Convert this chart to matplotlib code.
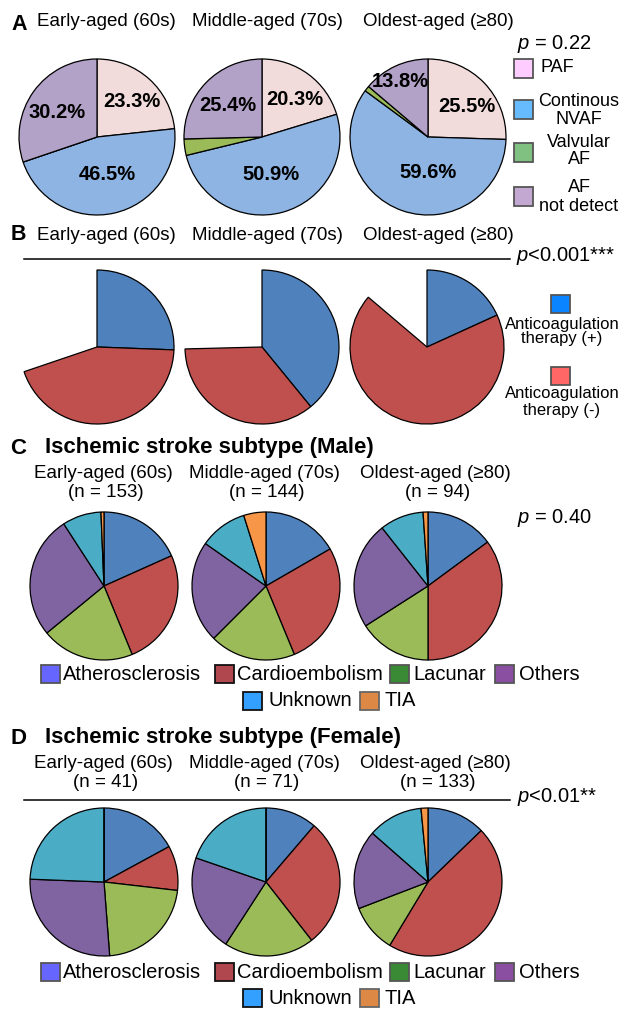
import matplotlib
matplotlib.use("Agg")
import numpy as np
import matplotlib.pyplot as plt
from matplotlib.patches import Rectangle
from matplotlib.lines import Line2D

plt.rcParams['font.family'] = ['Liberation Sans', 'DejaVu Sans']
plt.rcParams['mathtext.fontset'] = 'custom'
plt.rcParams['mathtext.it'] = 'Liberation Sans:italic'
plt.rcParams['mathtext.rm'] = 'Liberation Sans'

# ---------------------------------------------------------------- data
age_groups = ["Early-aged (60s)", "Middle-aged (70s)", "Oldest-aged (≥80)"]

# A: type of atrial fibrillation (%)
af_types = ["PAF", "Continous\nNVAF", "Valvular\nAF", "AF\nnot detect"]
af_early = [23.3, 46.5, 0.0, 30.2]
af_middle = [20.3, 50.9, 3.4, 25.4]
af_oldest = [25.5, 59.6, 1.1, 13.8]
af_p = "= 0.22"

# B: anticoagulation therapy (%); remainder = AF not detected
anticoag_labels = ["Anticoagulation\ntherapy (+)", "Anticoagulation\ntherapy (-)"]
anticoag_pos = [25.6, 39.1, 18.2]
anticoag_neg = [44.2, 35.5, 68.0]
af_not_detected = [30.2, 25.4, 13.8]
anticoag_p = "<0.001***"

# C / D: ischemic stroke subtype (patients)
subtypes = ["Atherosclerosis", "Cardioembolism", "Lacunar", "Others", "Unknown", "TIA"]
male_n = [153, 144, 94]
male_early = [28, 39, 31, 41, 13, 1]
male_middle = [24, 39, 27, 32, 15, 7]
male_oldest = [14, 33, 15, 22, 9, 1]
male_p = "= 0.40"
female_n = [41, 71, 133]
female_early = [7, 4, 9, 11, 10, 0]
female_middle = [8, 20, 14, 15, 14, 0]
female_oldest = [17, 61, 14, 23, 16, 2]
female_p = "<0.01**"

# ---------------------------------------------------------------- styles
W, H = 622, 1009
af_pie_colors = ["#f2dcdb", "#8db4e2", "#9bbb59", "#b3a2c7"]
af_leg_colors = ["#ffccff", "#66bbff", "#80c080", "#c3a8d1"]
ac_pie_colors = ["#4f81bd", "#c0504d", "none"]
ac_leg_colors = ["#0a84ff", "#ff6666"]
st_pie_colors = ["#4f81bd", "#c0504d", "#9bbb59", "#8064a2", "#4bacc6", "#f79646"]
st_leg_colors = ["#6666ff", "#b0474f", "#3a8a35", "#8a4fa0", "#33a0ff", "#dd8844"]
st_leg_edges = ["#555555", "#111111", "#555555", "#555555", "#111111", "#666666"]
# (radial distance, angular nudge in degrees) for the percentage labels of A
af_label_pos = [
    [(0.64, -2), (0.50, 3), None, (0.60, 4)],
    [(0.64, -5), (0.50, -2), None, (0.60, 2)],
    [(0.63, -6), (0.45, 19), None, (0.80, 2)],
]
col_x = [106, 267, 438]

fig = plt.figure(figsize=(W / 100, H / 100), dpi=100)


def fx(x):
    return x / W


def fy(y):
    return 1 - y / H


def put(x, y, s, **kw):
    kw.setdefault('va', 'center')
    kw.setdefault('ha', 'left')
    return fig.text(fx(x), fy(y), s, **kw)


def square(x0, y0, w, h, fc, ec="#555555"):
    fig.add_artist(Rectangle((fx(x0), fy(y0 + h)), w / W, h / H,
                             transform=fig.transFigure, facecolor=fc,
                             edgecolor=ec, linewidth=1.3))


def hline(y, x0=24, x1=510):
    fig.add_artist(Line2D([fx(x0), fx(x1)], [fy(y), fy(y)],
                          transform=fig.transFigure, color="black", lw=1.1))


def pie(cx, cy, r, values, colors):
    pad = 1.06
    ax = fig.add_axes([fx(cx - r * pad), fy(cy + r * pad),
                       2 * r * pad / W, 2 * r * pad / H])
    wedges, _ = ax.pie(values, colors=colors, startangle=90, counterclock=False,
                       radius=1, wedgeprops=dict(edgecolor="black", linewidth=0.9))
    ax.set_xlim(-pad, pad)
    ax.set_ylim(-pad, pad)
    ax.set_aspect("auto")
    ax.axis("off")
    return ax, wedges


# ---------------------------------------------------------------- panel A
put(11, 24, "A", fontsize=15.5, fontweight="bold")
for x, g in zip(col_x, age_groups):
    put(x, 22, g, ha="center", fontsize=13.5)

a_centers = [(97, 137), (262, 137), (428, 137)]
for (cx, cy), vals, lpos in zip(a_centers, [af_early, af_middle, af_oldest], af_label_pos):
    ax, wedges = pie(cx, cy, 78, vals, af_pie_colors)
    for w, v, lp in zip(wedges, vals, lpos):
        if lp is None or v <= 0:
            continue
        d, nudge = lp
        th = np.deg2rad((w.theta1 + w.theta2) / 2 + nudge)
        ax.text(d * np.cos(th), d * np.sin(th), f"{v:.1f}%", ha="center",
                va="center", fontsize=14.5, fontweight="bold")

put(517, 44, r"$p$ " + af_p, fontsize=14.5)
a_leg_y = [(59, [68]), (100, [101, 120]), (143, [142, 160]), (187, [187, 206])]
for i, (lab, col) in enumerate(zip(af_types, af_leg_colors)):
    y0, line_y = a_leg_y[i]
    square(514, y0, 19, 19, col)
    lines = lab.split("\n")
    if len(lines) == 1:
        put(541, line_y[0], lines[0], fontsize=13)
    else:
        for ly, t in zip(line_y, lines):
            put(579, ly, t, ha="center", fontsize=13)

# ---------------------------------------------------------------- panel B
put(11, 235, "B", fontsize=15.5, fontweight="bold")
for x, g in zip(col_x, age_groups):
    put(x, 235, g, ha="center", fontsize=13.5)
hline(259)
put(516, 256, r"$p$" + anticoag_p, fontsize=14.5)

b_centers = [(97, 347), (262, 347), (427, 347)]
for i, (cx, cy) in enumerate(b_centers):
    vals = [anticoag_pos[i], anticoag_neg[i], af_not_detected[i]]
    ax, wedges = pie(cx, cy, 77, vals, ac_pie_colors)
    wedges[2].set_visible(False)

b_leg = [(295, [324, 339]), (367, [393, 411])]
for lab, col, (y0, line_y) in zip(anticoag_labels, ac_leg_colors, b_leg):
    square(551, y0, 19, 18, col)
    for ly, t in zip(line_y, lab.split("\n")):
        put(562, ly, t, ha="center", fontsize=12)


# ---------------------------------------------------------------- panels C / D
def subtype_panel(letter, title, top, n_list, groups, p_text, p_y, line_y, pie_y, leg_y):
    put(10, top, letter, fontsize=16, fontweight="bold")
    put(45, top, title, fontsize=16, fontweight="bold")
    for x, g, n in zip(col_x, age_groups, n_list):
        put(x - 3, top + 25, g, ha="center", fontsize=13.5)
        put(x, top + 44.5, f"(n = {n})", ha="center", fontsize=13.5)
    if line_y is not None:
        hline(line_y)
    put(517, p_y, r"$p$" + (" " if p_text.startswith("=") else "") + p_text,
        fontsize=14.5)
    for cx, vals in zip([104, 266, 428], groups):
        pie(cx, pie_y, 74, vals, st_pie_colors)
    # legend, two centred rows: (patch left, text left)
    rows = [[0, 1, 2, 3], [4, 5]]
    row_x = [[(41, 63), (215, 237), (390, 413), (495, 519)],
             [(243, 269), (360, 384)]]
    for r, (idxs, xs) in enumerate(zip(rows, row_x)):
        yc = leg_y[r]
        for i, (x0, xt) in zip(idxs, xs):
            square(x0, yc - 9, 19, 18, st_leg_colors[i], st_leg_edges[i])
            put(xt, yc, subtypes[i], fontsize=14.5)


subtype_panel("C", "Ischemic stroke subtype (Male)", 448, male_n,
              [male_early, male_middle, male_oldest], male_p, 518, None, 586,
              [674, 701])
subtype_panel("D", "Ischemic stroke subtype (Female)", 738, female_n,
              [female_early, female_middle, female_oldest], female_p, 797, 800,
              882, [972, 998])

fig.savefig("out.png", dpi=100)
